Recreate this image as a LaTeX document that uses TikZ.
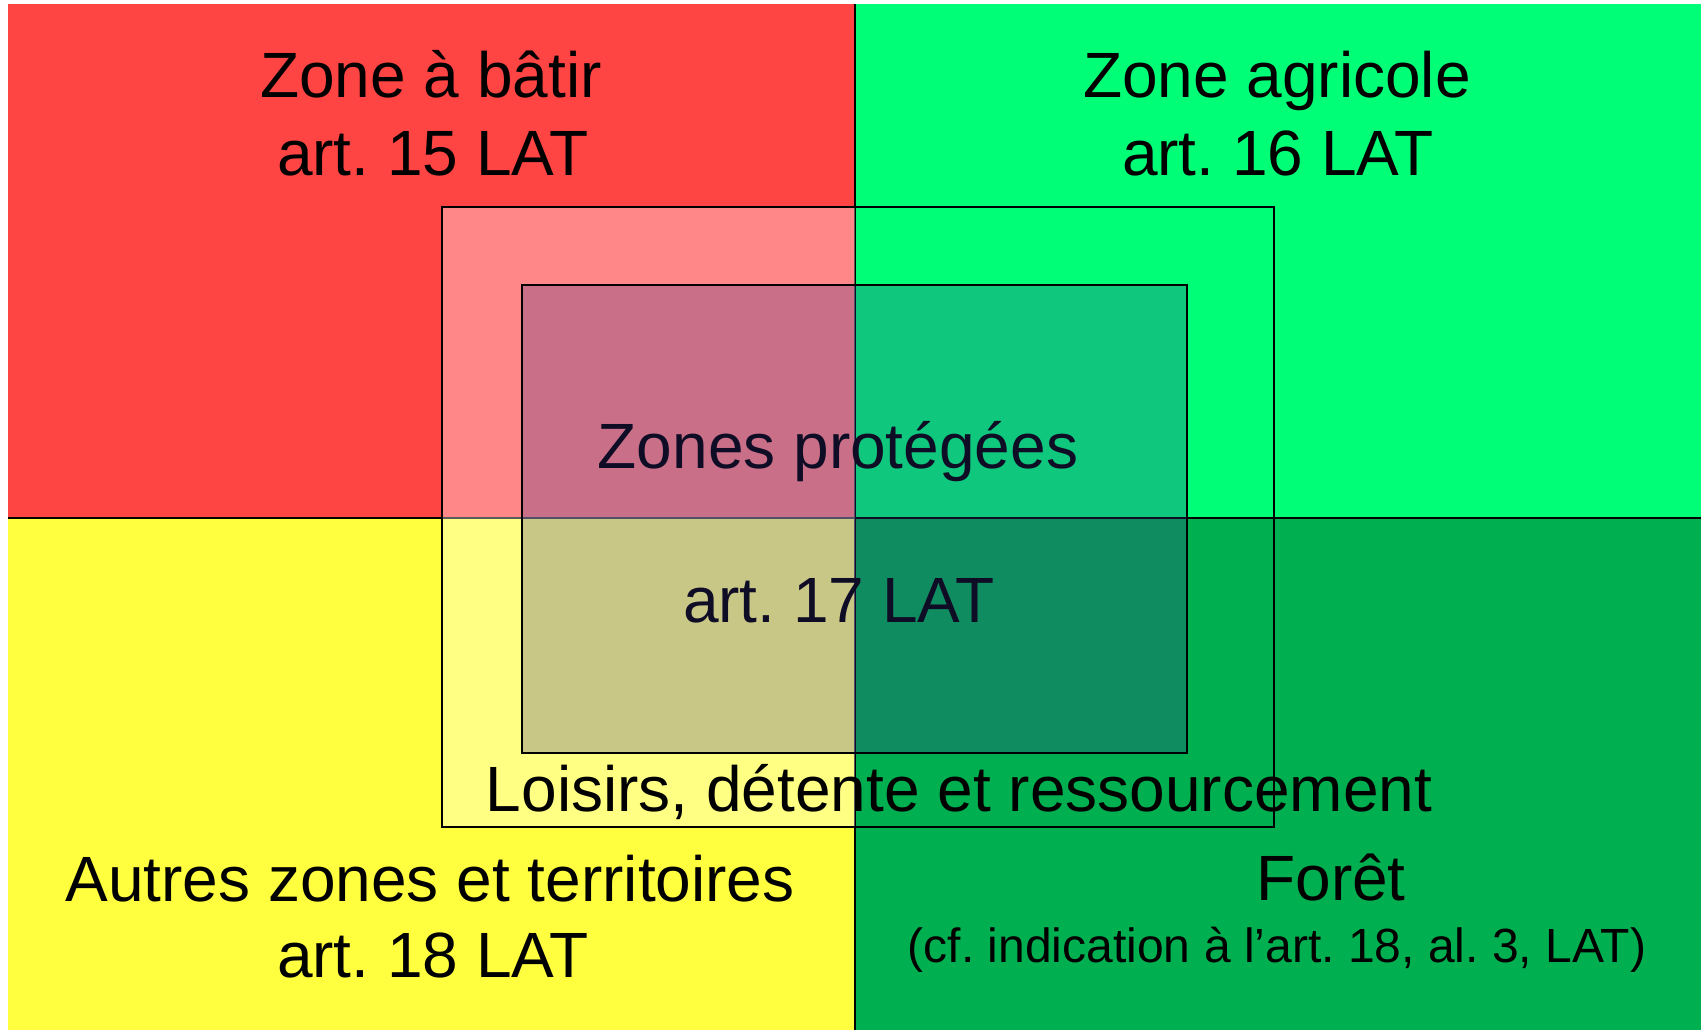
\documentclass[tikz,border=0pt]{standalone}
\usepackage{fontspec}
\setmainfont{Liberation Sans}
\usepackage{tikz}
\usetikzlibrary{calc}
\frenchspacing

\definecolor{batirred}{RGB}{255,68,68}
\definecolor{agrigreen}{RGB}{0,255,119}
\definecolor{autresyellow}{RGB}{255,255,64}
\definecolor{foretgreen}{RGB}{0,176,80}
\definecolor{protblue}{RGB}{56,49,142}

\begin{document}
\begin{tikzpicture}[
        x=0.01cm,
        y=-0.01cm,
        lbl/.style={font=\fontsize{18.2}{21}\selectfont, inner sep=0pt, anchor=base},
        smalllbl/.style={font=\fontsize{13.65}{16}\selectfont, inner sep=0pt, anchor=base},
        frame/.style={line width=0.75pt}
    ]
        \useasboundingbox (0,0) rectangle (1706,1030);

        \coordinate (NW) at (8,4);
        \coordinate (SE) at (1701,1030);
        \coordinate (M) at (855,518);

        % outer and inner boxes
        \coordinate (O1) at (442,207);
        \coordinate (O2) at (1274,827);
        \coordinate (I1) at (522,285);
        \coordinate (I2) at (1187,753);

        \fill[batirred] (NW) rectangle (M);
        \fill[agrigreen] (M |- NW) rectangle (SE |- M);
        \fill[autresyellow] (NW |- M) rectangle (M |- SE);
        \fill[foretgreen] (M) rectangle (SE);

        \draw[frame] (M |- NW) -- (M |- SE);
        \draw[frame] (NW |- M) -- (SE |- M);

        \node[lbl] (batir) at (431,97) {Zone à bâtir};
        \node[lbl] (batirart) at (433,175) {art. 15 LAT};
        \node[lbl] (agri) at (1277,97) {Zone agricole};
        \node[lbl] (agriart) at (1278,175) {art. 16 LAT};
        \node[lbl] (autres) at (430,901) {Autres zones et territoires};
        \node[lbl] (autresart) at (433,977) {art. 18 LAT};
        \node[lbl] (foret) at (1331,900) {Forêt};
        \node[smalllbl] (foretnote) at (1277,962) {(cf. indication à l’art. 18, al. 3, LAT)};

        \fill[white, opacity=0.36] (O1) rectangle (O2 -| M);

        \node[lbl] (prot) at (838,468) {Zones protégées};
        \node[lbl] (protart) at (839,622) {art. 17 LAT};

        \fill[protblue, opacity=0.27] (I1) rectangle (I2);

        \draw[frame] (O1) rectangle (O2);
        \draw[frame] (I1) rectangle (I2);

        \node[lbl] (loisirs) at (959,811) {Loisirs, détente et ressourcement};

    \end{tikzpicture}
\end{document}
